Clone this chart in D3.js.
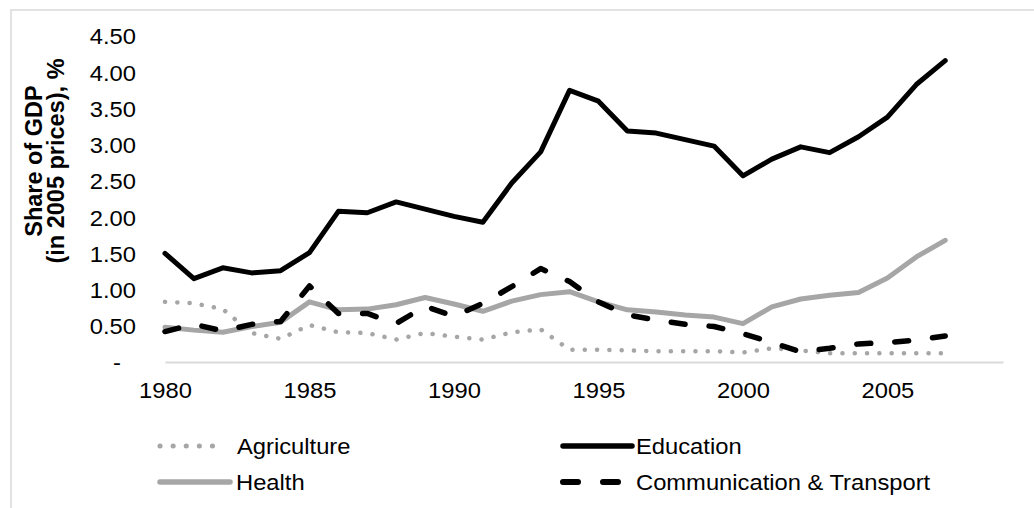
<!DOCTYPE html>
<html><head><meta charset="utf-8">
<script src="https://cdn.jsdelivr.net/npm/d3@7"></script>
<style>html,body{margin:0;padding:0;background:#fff;} svg{display:block;font-family:Arial,"Liberation Sans",sans-serif;}</style>
</head><body>
<svg id="c" width="1034" height="508"></svg>
<script>
const years = d3.range(1980, 2008);
const agriculture = [0.83,0.81,0.73,0.40,0.32,0.51,0.41,0.40,0.31,0.40,0.35,0.31,0.41,0.45,0.17,0.17,0.16,0.15,0.15,0.15,0.13,0.19,0.16,0.12,0.12,0.12,0.12,0.12];
const education   = [1.50,1.15,1.30,1.23,1.26,1.51,2.08,2.06,2.21,2.11,2.01,1.93,2.47,2.90,3.75,3.60,3.19,3.16,3.07,2.98,2.57,2.80,2.97,2.89,3.11,3.38,3.83,4.16];
const health      = [0.48,0.44,0.41,0.49,0.55,0.83,0.72,0.73,0.79,0.89,0.80,0.70,0.84,0.93,0.97,0.83,0.72,0.69,0.65,0.62,0.53,0.76,0.87,0.92,0.96,1.16,1.45,1.68];
const commTransport = [0.42,0.52,0.43,0.52,0.56,1.05,0.67,0.67,0.53,0.77,0.63,0.81,1.04,1.29,1.11,0.83,0.65,0.58,0.52,0.49,0.39,0.27,0.14,0.19,0.25,0.27,0.30,0.36];
const yTicks = [0,0.5,1,1.5,2,2.5,3,3.5,4,4.5];
const xTicks = [1980,1985,1990,1995,2000,2005];
const seriesNames = ["Agriculture","Education","Health","Communication & Transport"];

const SX = 1.08; // horizontal stretch of the reference's text
const svg = d3.select("#c");
const x = d3.scaleLinear().domain([1980, 2009]).range([165, 1003]);
const y = d3.scaleLinear().domain([0, 4.5]).range([362, 36]);

// outer border
svg.append("rect").attr("x",11).attr("y",10).attr("width",1100).attr("height",600)
  .attr("fill","none").attr("stroke","#d9d9d9").attr("stroke-width",1.5);

// y axis labels
const yAxis = d3.axisLeft(y).tickValues(yTicks).tickSize(0).tickPadding(0)
  .tickFormat(d => d === 0 ? "-" : d3.format(".2f")(d));
const gy = svg.append("g").attr("transform","translate(136,0)").call(yAxis);
gy.select(".domain").remove();
gy.selectAll("text").attr("font-size",22).attr("fill","#000").attr("font-family","Arial, 'Liberation Sans', sans-serif")
  .attr("dy","0.36em")
  .attr("dx", d => d === 0 ? -14 : 0)
  .attr("transform",`scale(${SX},1)`);

// x axis
const xAxis = d3.axisBottom(x).tickValues(xTicks).tickSize(0).tickPadding(0).tickFormat(d3.format("d"));
const gx = svg.append("g").attr("transform","translate(0,362)").call(xAxis);
gx.select(".domain").attr("stroke","#d9d9d9").attr("stroke-width",2);
gx.selectAll("text").attr("font-size",22).attr("fill","#000").attr("font-family","Arial, 'Liberation Sans', sans-serif")
  .attr("y",36).attr("dy",0)
  .attr("transform",`scale(${SX},1)`);

// y title
const yt = svg.append("text").attr("transform","translate(0,161) rotate(-90)")
  .attr("text-anchor","middle").attr("font-weight","bold").attr("font-size",23.5).attr("fill","#000");
yt.append("tspan").attr("x",0).attr("y",42).text("Share of GDP");
yt.append("tspan").attr("x",0).attr("y",64).text("(in 2005 prices), %");

const styles = {
  "Agriculture": {data: agriculture, color:"#a6a6a6", width:4.5, dash:"0.1,12.2"},
  "Education": {data: education, color:"#000", width:5, dash:null},
  "Health": {data: health, color:"#a6a6a6", width:5, dash:null},
  "Communication & Transport": {data: commTransport, color:"#000", width:5.5, dash:"14,24"}
};
const line = d3.line().x((d,i)=>x(years[i])).y(d=>y(d));
const order = ["Agriculture","Health","Communication & Transport","Education"];
order.forEach(name=>{
  const s = styles[name];
  svg.append("path").datum(s.data).attr("d",line).attr("fill","none")
    .attr("stroke",s.color).attr("stroke-width",s.width)
    .attr("stroke-linecap","round").attr("stroke-linejoin","round")
    .attr("stroke-dasharray",s.dash);
});

// legend
const legendPos = [
  {name:"Agriculture", x1:160, x2:225, ty:446, tx:237},
  {name:"Education", x1:563, x2:632, ty:446, tx:636},
  {name:"Health", x1:160, x2:230, ty:482, tx:236},
  {name:"Communication & Transport", x1:563, x2:630, ty:482, tx:636}
];
legendPos.forEach(p=>{
  const s = styles[p.name];
  const g = svg.append("g");
  let dash = s.dash;
  if (p.name === "Communication & Transport") dash = "15,25";
  if (p.name === "Agriculture") dash = "0.1,13";
  g.append("line").attr("x1",p.x1).attr("x2",p.x2).attr("y1",p.ty).attr("y2",p.ty)
    .attr("stroke",s.color).attr("stroke-width",s.width+0.5).attr("stroke-linecap","round")
    .attr("stroke-dasharray",dash);
  g.append("text").attr("transform",`translate(${p.tx},${p.ty}) scale(${SX},1)`).attr("dy","0.36em")
    .attr("font-size",22).attr("fill","#000").text(p.name);
});
</script>
</body></html>
